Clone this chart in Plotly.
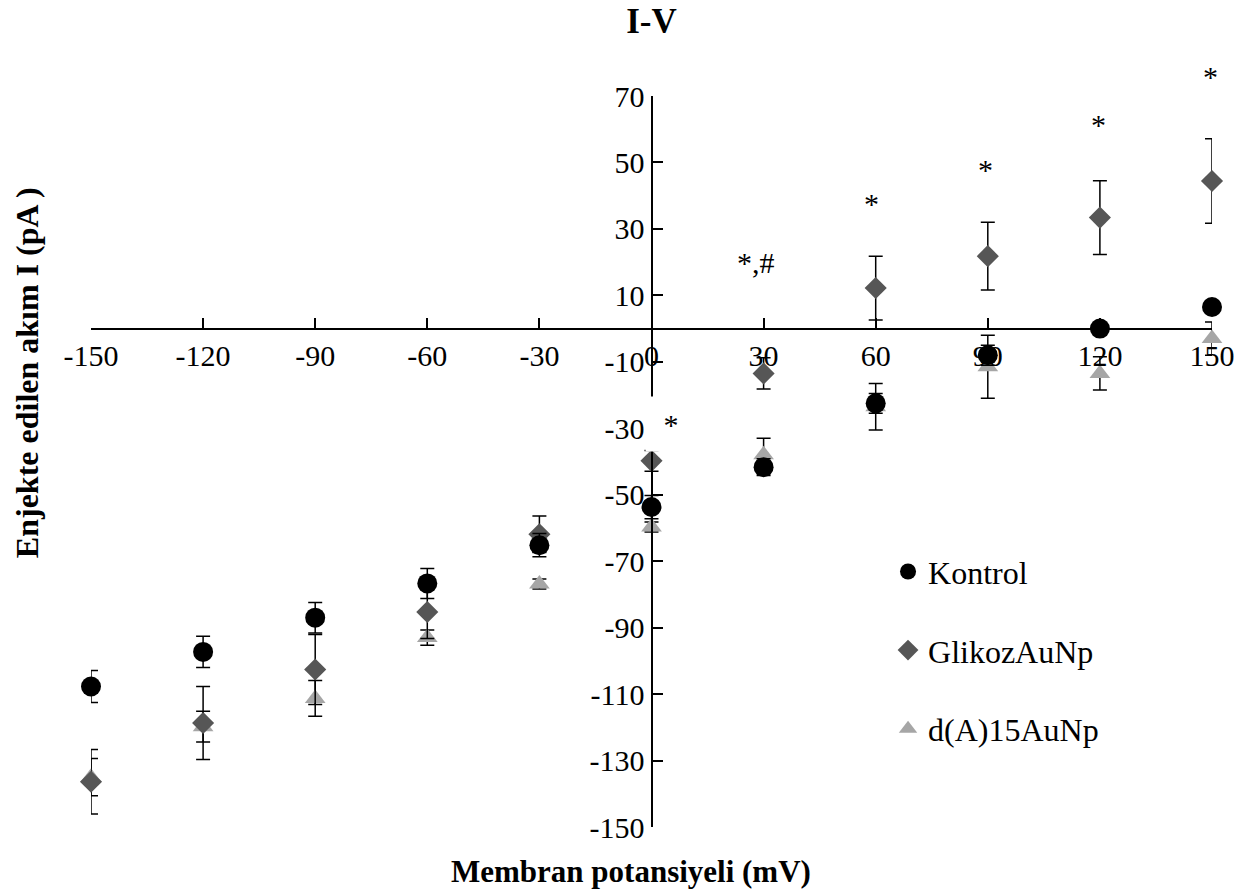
import plotly.graph_objects as go

x_mv = [-150, -120, -90, -60, -30, 0, 30, 60, 90, 120, 150]

kontrol = [-107.7, -97.3, -87.0, -76.7, -65.2, -53.7, -41.7, -22.5, -8.0, 0.0, 6.5]
kontrol_err = [4.8, 4.7, 4.6, 4.5, 3.5, 3.5, 2.5, 3.0, 3.0, 1.5, 1.5]

glikoz = [-136.4, -118.7, -102.6, -85.3, -61.9, -39.8, -13.5, 12.2, 21.8, 33.4, 44.4]
glikoz_err = [9.7, 11.0, 10.5, 8.0, 5.5, 3.1, 4.7, 9.6, 10.2, 11.1, 12.7]

da15 = [-135.0, -119.8, -111.3, -93.0, -76.9, -59.7, -38.0, -23.5, -11.5, -13.5, -3.0]
da15_err = [5.6, 4.6, 5.4, 2.3, 1.5, 1.5, 5.0, 7.0, 9.5, 5.0, 5.0]

x_ticks = [-150, -120, -90, -60, -30, 0, 30, 60, 90, 120, 150]
y_ticks = [70, 50, 30, 10, -10, -30, -50, -70, -90, -110, -130, -150]

ann_x = [59, 89.4, 119.7, 149.6, 5.35, 27.9, -150.6]
ann_y = [37.6, 48.0, 61.4, 75.9, -28.6, 20.0, -88.3]
ann_text = ["*", "*", "*", "*", "*", "*,#", "#"]

FONT = "Liberation Serif, Times New Roman, serif"
Y_RANGE = [-150, 70]
PX_PER_Y = 731 / 220

fig = go.Figure()

series = [
    ("d(A)15AuNp", da15, da15_err, "triangle-up", 18, "#a6a6a6", "c", 3),
    ("GlikozAuNp", glikoz, glikoz_err, "diamond", 17, "#565656", "b", 2),
    ("Kontrol", kontrol, kontrol_err, "circle", 20, "#000000", "a", 1),
]
for name, vals, errs, sym, msize, col, grp, rank in series:
    fig.add_trace(go.Scatter(
        x=x_mv, y=vals, name=name, mode="markers", legendgroup=grp,
        legendrank=rank,
        marker=dict(symbol=sym, size=msize, color=col, line=dict(width=0)),
        error_y=dict(type="data", array=errs, visible=True, color="black",
                     thickness=1.5, width=7),
        cliponaxis=False,
    ))

for ax, ay, at in zip(ann_x, ann_y, ann_text):
    ya = min(max(ay, Y_RANGE[0]), Y_RANGE[1])
    extra = {}
    if at == "*" and abs(ax - 5.35) < 0.01:
        # text box with white fill, as in the original chart
        extra = dict(bgcolor="white", borderpad=14, width=22, height=26)
    fig.add_annotation(x=ax, y=ya, xref="x", yref="y", text=at, showarrow=False,
                       yshift=(ay - ya) * PX_PER_Y,
                       font=dict(family=FONT, size=30, color="black"),
                       xanchor="center", yanchor="middle", **extra)

fig.add_annotation(x=0.4817, y=-0.0602, xref="paper", yref="paper",
                   text="<b>Membran potansiyeli (mV)</b>", showarrow=False,
                   font=dict(family=FONT, size=31, color="black"),
                   xanchor="center", yanchor="middle")
fig.add_annotation(x=-0.057, y=0.621, xref="paper", yref="paper",
                   text="<b>Enjekte edilen akım I (pA )</b>", showarrow=False,
                   textangle=-90,
                   font=dict(family=FONT, size=32, color="black"),
                   xanchor="center", yanchor="middle")

fig.update_layout(
    width=1248, height=893,
    paper_bgcolor="white", plot_bgcolor="white",
    margin=dict(l=91, r=36, t=96, b=66, autoexpand=False),
    title=dict(text="<b>I-V</b>", x=0.5, xref="paper", y=1 - 21 / 893,
               yref="container", xanchor="center", yanchor="middle",
               font=dict(family=FONT, size=35, color="black")),
    font=dict(family=FONT, size=30, color="black"),
    showlegend=True,
    legend=dict(x=0.711, y=0.3869, xanchor="left", yanchor="top",
                traceorder="grouped", tracegroupgap=34,
                font=dict(family=FONT, size=32, color="black"),
                bgcolor="rgba(0,0,0,0)", borderwidth=0),
    xaxis=dict(range=[-150, 150], tickvals=x_ticks, ticktext=[str(v) for v in x_ticks],
               anchor="free", position=150 / 220, showline=True, linecolor="black",
               linewidth=2, ticks="inside", ticklen=10, tickwidth=2, tickcolor="black",
               showgrid=False, zeroline=False, automargin=False,
               tickfont=dict(family=FONT, size=30, color="black")),
    yaxis=dict(range=Y_RANGE, tickvals=y_ticks, ticktext=[str(v) for v in y_ticks],
               anchor="free", position=0.5, showline=True, linecolor="black",
               linewidth=2, ticks="inside", ticklen=10, tickwidth=2, tickcolor="black",
               showgrid=False, zeroline=False, automargin=False,
               tickfont=dict(family=FONT, size=30, color="black")),
)

fig.write_html("out.html", config={"displayModeBar": False},
               post_script="document.body.style.margin='0';")
